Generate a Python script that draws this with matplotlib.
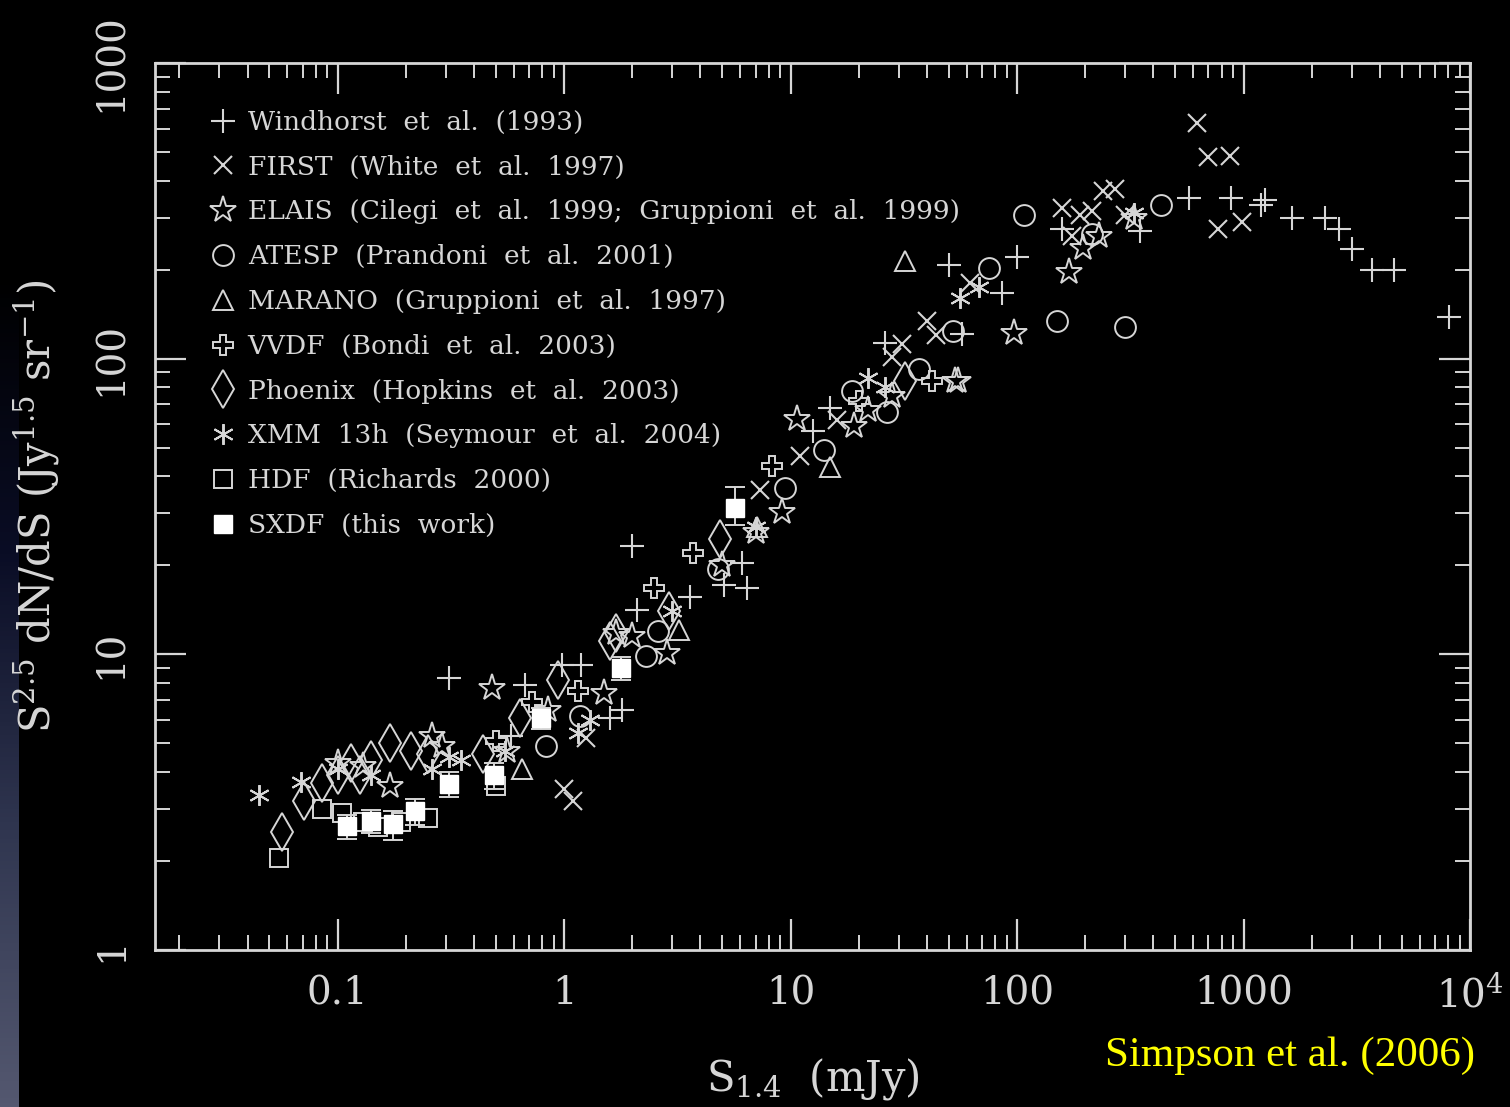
"""Radio source counts at 1.4 GHz (Simpson et al. 2006) on a dark slide background."""
import matplotlib
matplotlib.use("Agg")
import matplotlib.pyplot as plt
from matplotlib.lines import Line2D
import numpy as np

# ---- data ----
windhorst_x = [0.31, 0.58, 0.67, 0.98, 1.19, 1.6, 1.8, 2.0, 2.1, 3.6, 5.1, 6.1, 6.4,
               12.5, 15, 26, 50, 57, 86, 100, 158, 350, 575, 880, 1200, 1250, 1640,
               2300, 2650, 3000, 3700, 4600, 8100]
windhorst_y = [8.3, 5.3, 7.9, 9.2, 9.2, 6.1, 6.5, 23.3, 14.1, 15.6, 17.1, 20.3, 16.8,
               57, 68, 113, 207, 121, 167, 220, 275, 270, 350, 350, 330, 345, 300,
               300, 275, 235, 200, 200, 138]

first_x = [1.0, 1.1, 1.25, 7.3, 11, 16, 28, 31, 40, 44, 62, 158, 175, 190, 215, 240,
           270, 300, 620, 700, 770, 870, 980]
first_y = [3.5, 3.2, 5.2, 36, 47, 62, 101, 112, 134, 120, 180, 323, 260, 305, 315, 370,
           375, 305, 625, 480, 275, 485, 290]

elais_x = [0.1, 0.13, 0.17, 0.26, 0.29, 0.48, 0.56, 0.85, 1.5, 1.7, 2.0, 2.86, 5, 7,
           9.2, 10.7, 19, 22, 28, 53, 55, 97, 170, 195, 230, 330]
elais_y = [4.3, 4.2, 3.6, 5.3, 4.9, 7.7, 4.7, 6.5, 7.4, 11.8, 11.5, 10.1, 20, 26,
           30.2, 62.6, 59, 67, 75, 84, 84, 122, 197, 237, 260, 300]

atesp_x = [0.83, 1.17, 2.3, 2.6, 4.8, 9.4, 14, 18.7, 26.6, 37, 52, 75, 107, 150, 215,
           300, 430]
atesp_y = [4.9, 6.2, 9.9, 12, 19.5, 36.5, 49, 78, 66, 92, 124, 203, 305, 134, 265,
           128, 330]

marano_x = [0.65, 3.2, 7.1, 15, 32]
marano_y = [4.1, 12.1, 27, 43, 214]

vvdf_x = [0.5, 0.72, 1.15, 2.5, 3.7, 8.3, 20, 42]
vvdf_y = [5.1, 6.9, 7.5, 16.8, 22, 43.5, 72, 84]

phoenix_x = [0.057, 0.071, 0.085, 0.1, 0.115, 0.125, 0.14, 0.17, 0.21, 0.25, 0.44,
             0.64, 0.94, 1.6, 1.7, 2.9, 4.9, 32]
phoenix_y = [2.5, 3.2, 3.66, 3.9, 4.3, 3.9, 4.4, 5.0, 4.7, 4.6, 4.6, 6.1, 8.2, 11.1,
             11.8, 14, 24.6, 84]

xmm_x = [0.045, 0.069, 0.1, 0.14, 0.26, 0.31, 0.35, 0.55, 1.15, 1.3, 3.0, 7, 22, 26,
         56, 68, 330]
xmm_y = [3.35, 3.7, 4.1, 3.9, 4.1, 4.5, 4.4, 4.7, 5.4, 6.0, 14, 27, 86, 80, 160, 175,
         310]

hdf_x = [0.055, 0.085, 0.105, 0.13, 0.15, 0.19, 0.25, 0.5]
hdf_y = [2.05, 3.0, 2.9, 2.7, 2.6, 2.7, 2.8, 3.6]

sxdf_x = [0.11, 0.14, 0.175, 0.22, 0.31, 0.49, 0.79, 1.78, 5.7]
sxdf_y = [2.62, 2.73, 2.66, 2.95, 3.64, 3.9, 6.1, 9.0, 31.3]
sxdf_lo = [0.25, 0.25, 0.3, 0.3, 0.35, 0.4, 0.5, 0.8, 4.0]
sxdf_hi = [0.25, 0.25, 0.3, 0.3, 0.35, 0.4, 0.5, 0.8, 5.6]

labels = ["Windhorst  et  al.  (1993)",
          "FIRST  (White  et  al.  1997)",
          "ELAIS  (Cilegi  et  al.  1999;  Gruppioni  et  al.  1999)",
          "ATESP  (Prandoni  et  al.  2001)",
          "MARANO  (Gruppioni  et  al.  1997)",
          "VVDF  (Bondi  et  al.  2003)",
          "Phoenix  (Hopkins  et  al.  2003)",
          "XMM  13h  (Seymour  et  al.  2004)",
          "HDF  (Richards  2000)",
          "SXDF  (this  work)"]

FG = "#d6d6d6"
plt.rcParams["font.family"] = ["DejaVu Serif"]
plt.rcParams["mathtext.fontset"] = "dejavuserif"

fig = plt.figure(figsize=(15.1, 11.07), dpi=100, facecolor="black")

# left slide gradient strip
strip = fig.add_axes([0, 0, 0.012, 1])
grad = np.linspace(0, 1, 256).reshape(-1, 1)
strip.imshow(grad, aspect="auto", origin="lower",
             cmap=matplotlib.colors.LinearSegmentedColormap.from_list(
                 "s", ["#545870", "#303650", "#0a0d25", "#000000", "#000000"]))
strip.set_axis_off()

ax = fig.add_axes([0.1026, 0.1418, 0.8709, 0.8013], facecolor="black")
ax.set_xscale("log"); ax.set_yscale("log")
ax.set_xlim(0.0156, 1e4); ax.set_ylim(1, 1000)

mk = dict(ls="none", color=FG, mfc="none", mec=FG, mew=1.4)
series = [
    (windhorst_x, windhorst_y, dict(marker="+", ms=17, mew=1.5)),
    (first_x, first_y, dict(marker="x", ms=13, mew=1.5)),
    (elais_x, elais_y, dict(marker="*", ms=20)),
    (atesp_x, atesp_y, dict(marker="o", ms=15)),
    (marano_x, marano_y, dict(marker="^", ms=14)),
    (vvdf_x, vvdf_y, dict(marker="P", ms=14)),
    (phoenix_x, phoenix_y, dict(marker="d", ms=19)),
    (xmm_x, xmm_y, dict(marker=(6, 2, 0), ms=15, mew=1.4)),
    (hdf_x, hdf_y, dict(marker="s", ms=13)),
]
handles = []
for (x, y, style), lab in zip(series, labels):
    ax.plot(x, y, **{**mk, **style})
    handles.append(Line2D([], [], **{**mk, **style}, label=lab))

ax.errorbar(sxdf_x, sxdf_y, yerr=[sxdf_lo, sxdf_hi], ls="none", marker="s", ms=13,
            mfc="white", mec="white", ecolor=FG, elinewidth=1.4, capsize=7, capthick=1.4)
handles.append(Line2D([], [], ls="none", marker="s", ms=13, mfc="white", mec="white",
                      label=labels[-1]))

leg = ax.legend(handles=handles, loc="upper left", bbox_to_anchor=(0.034, 0.959),
                frameon=False, fontsize=19, labelspacing=0.75, handlelength=1.0,
                handletextpad=0.42, borderaxespad=0)
for t in leg.get_texts():
    t.set_color(FG)

for s in ax.spines.values():
    s.set_color(FG); s.set_linewidth(2)
ax.tick_params(which="both", direction="in", top=True, right=True, colors=FG)
ax.tick_params(which="major", length=22, width=1.6, pad=18, labelsize=28)
ax.tick_params(which="minor", length=11, width=1.4)
ax.set_xticks([0.1, 1, 10, 100, 1000, 1e4])
ax.set_xticklabels(["0.1", "1", "10", "100", "1000", r"$10^4$"])
ax.set_yticks([1, 10, 100, 1000])
ax.set_yticklabels(["1", "10", "100", "1000"], rotation=90, va="center")
ax.xaxis.set_minor_locator(matplotlib.ticker.LogLocator(subs=np.arange(2, 10)))
ax.yaxis.set_minor_locator(matplotlib.ticker.LogLocator(subs=np.arange(2, 10)))
ax.xaxis.set_minor_formatter(matplotlib.ticker.NullFormatter())
ax.yaxis.set_minor_formatter(matplotlib.ticker.NullFormatter())

ax.set_xlabel(r"S$_{1.4}$  (mJy)", color=FG, fontsize=30, labelpad=30)
ax.set_ylabel(r"S$^{2.5}$ dN/dS (Jy$^{1.5}$ sr$^{-1}$)", color=FG, fontsize=30,
              labelpad=22)

fig.text(0.977, 0.046, "Simpson et al. (2006)", color="#ffff00", fontsize=31,
         family=["Liberation Serif"], ha="right", va="center")

fig.savefig("out.png", dpi=100, facecolor="black")
